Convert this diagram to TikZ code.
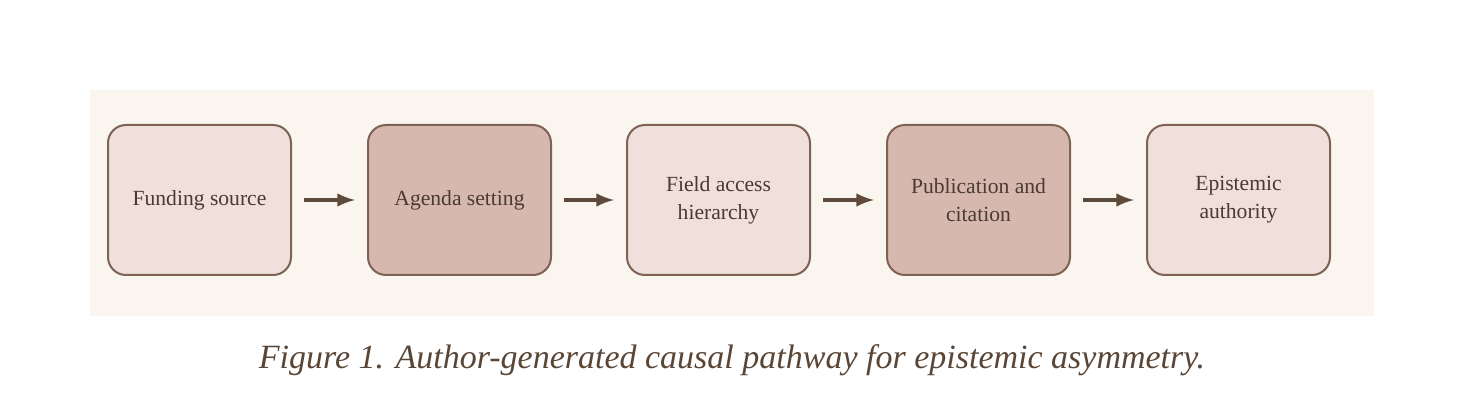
\documentclass[tikz,border=0pt]{standalone}
\usepackage{fontspec}
\setmainfont{Liberation Serif}
\begin{document}
\begin{tikzpicture}[x=0.5pt,y=-0.5pt,
  box/.style={draw=bordc, line width=1pt, rounded corners=9pt, minimum width=91.5pt, minimum height=75pt, align=center, font=\fontsize{10.8}{14}\selectfont, text=textc},
  light/.style={box, fill=pinkl},
  dark/.style={box, fill=pinkd},
  arr/.style={-latex, line width=2pt, draw=arrc}]
\definecolor{pinkl}{HTML}{F0E0DC}
\definecolor{pinkd}{HTML}{D7B8AF}
\definecolor{bordc}{HTML}{7E6253}
\definecolor{textc}{HTML}{4A3A35}
\definecolor{arrc}{HTML}{5E4A3A}
\definecolor{cream}{HTML}{FAF6EF}
\definecolor{capc}{HTML}{5A4636}
\useasboundingbox (0,0) rectangle (1464,406);
\fill[cream] (90,90) rectangle (1374,316);
\node[light] (a) at (199.5,200) {Funding source};
\node[dark] (b) at (459.5,200) {Agenda setting};
\node[light] (c) at (718.5,200) {Field access\\hierarchy};
\node[dark] (d) at (978.5,200) {Publication and\\citation};
\node[light] (e) at (1238.5,200) {Epistemic\\authority};
\draw[arr] ([xshift=6pt]a.east) -- ([xshift=-6pt]b.west);
\draw[arr] ([xshift=6pt]b.east) -- ([xshift=-6pt]c.west);
\draw[arr] ([xshift=6pt]c.east) -- ([xshift=-6pt]d.west);
\draw[arr] ([xshift=6pt]d.east) -- ([xshift=-6pt]e.west);
\node[font=\itshape\fontsize{17}{20}\selectfont, text=capc] (cap) at (732,360) {Figure 1. Author-generated causal pathway for epistemic asymmetry.};
\end{tikzpicture}
\end{document}
